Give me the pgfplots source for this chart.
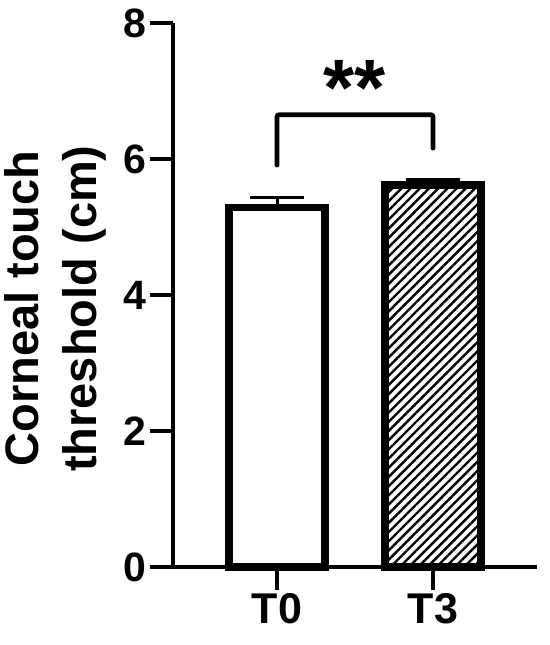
\documentclass[border=0pt]{standalone}
\usepackage{fontspec}
\setmainfont{Liberation Sans}
\usepackage{pgfplots}
\pgfplotsset{compat=1.18}
\usetikzlibrary{patterns.meta}

\begin{document}
\begin{tikzpicture}[x=1bp, y=1bp]
\useasboundingbox (0,0) rectangle (550,645);
\begin{axis}[
  at={(173bp,78bp)}, anchor=south west,
  scale only axis, width=364bp, height=544bp,
  xmin=-0.667, xmax=1.667, ymin=0, ymax=8,
  axis lines=left,
  axis line style={line width=4.7bp, -},
  xtick={0,1}, xticklabels={T0,T3},
  ytick={0,2,...,8},
  tick align=outside, major tick length=23bp,
  tick style={line width=4.7bp, black},
  /pgf/number format/assume math mode=true,
  yticklabel style={font=\fontsize{41bp}{44bp}\selectfont\bfseries},
  xticklabel style={font=\fontsize{43bp}{46bp}\selectfont\bfseries},
  ylabel={Corneal touch\\threshold (cm)},
  ylabel style={at={(rel axis cs:-0.324,0.475)}, anchor=center, align=center,
    font=\fontsize{47bp}{58bp}\selectfont\bfseries},
  clip=false,
]
  % T0
  \addplot[ybar, bar width=96bp, bar shift=0pt, draw=black, fill=white, line width=7.5bp,
    error bars/.cd, y dir=plus, y explicit,
    error bar style={line width=3bp, black},
    error mark options={rotate=90, line width=3bp, mark size=27bp, black}]
    coordinates {(0,5.29) +- (0,0.15)};
  % T3
  \addplot[ybar, bar width=96bp, bar shift=0pt, draw=black, line width=7.5bp,
    pattern={Lines[angle=45, distance=6.5bp, line width=2.4bp]}, pattern color=black,
    error bars/.cd, y dir=plus, y explicit,
    error bar style={line width=3bp, black},
    error mark options={rotate=90, line width=3bp, mark size=27bp, black}]
    coordinates {(1,5.62) +- (0,0.08)};
  % significance bracket
  \draw[line width=4.7bp, line cap=round, rounded corners=2bp]
    (axis cs:0,5.91) -- (axis cs:0,6.65) -- (axis cs:1,6.65) -- (axis cs:1,6.16);
  \node[font=\fontsize{80bp}{80bp}\selectfont\bfseries] at (axis cs:0.5,7.05) {**};
\end{axis}
\end{tikzpicture}
\end{document}
